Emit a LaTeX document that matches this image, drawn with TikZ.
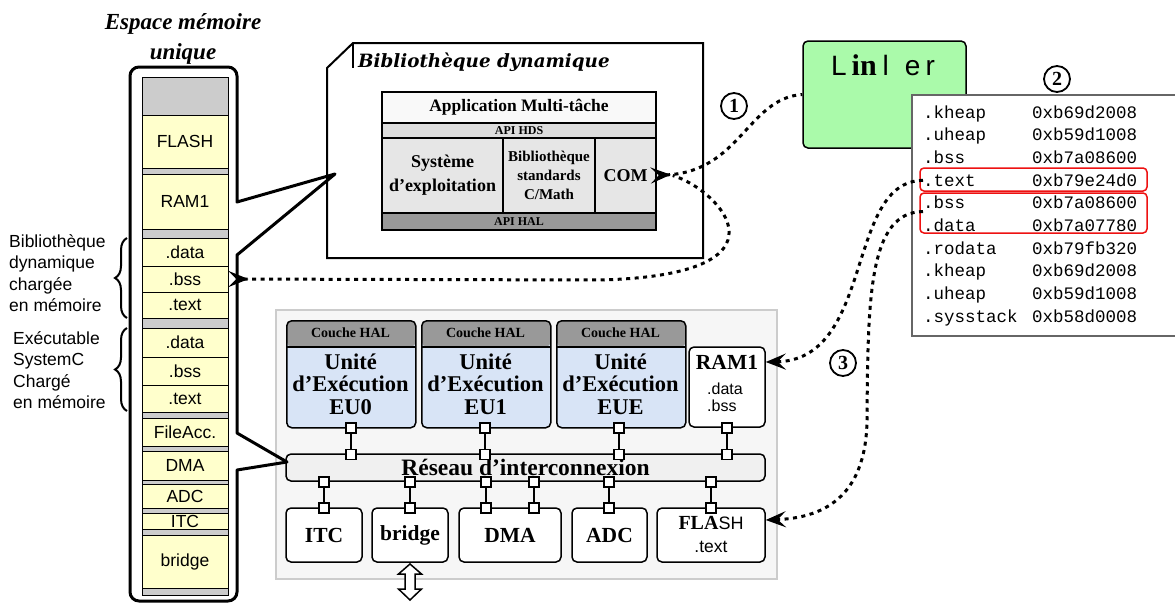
\documentclass[tikz,border=0pt]{standalone}
\usepackage{fontspec}
\setmainfont{Liberation Serif}
\setsansfont{Liberation Sans}
\setmonofont{Liberation Mono}
\newfontfamily\dejaserif{DejaVu Serif}
\usetikzlibrary{arrows.meta}
\usetikzlibrary{decorations.pathreplacing}

\definecolor{memYellow}{HTML}{FFFFCC}
\definecolor{memGray}{HTML}{CCCCCC}
\definecolor{appWhite}{HTML}{F9F9F9}
\definecolor{hdsGray}{HTML}{DDDDDD}
\definecolor{osGray}{HTML}{E6E6E6}
\definecolor{halGray}{HTML}{999999}
\definecolor{linkerGreen}{HTML}{AAFAAA}
\definecolor{tabGray}{HTML}{666666}
\definecolor{platFill}{HTML}{F6F6F6}
\definecolor{platBorder}{HTML}{CCCCCC}
\definecolor{euBlue}{HTML}{D8E4F6}
\definecolor{nocGray}{HTML}{F0F0F0}
\definecolor{markRed}{HTML}{EE1111}

\begin{document}
\begin{tikzpicture}[x=1pt,y=-1pt,
  callout/.style={line width=3pt,line join=round},
  memcell/.style={draw,line width=1pt,fill=memYellow,minimum width=86pt,inner sep=0pt,font=\sffamily\fontsize{17.5}{17.5}\selectfont},
  bracetxt/.style={align=left,inner sep=0pt,font=\sffamily\fontsize{17.5}{21.5}\selectfont},
  memBrace/.style={decorate,decoration={brace,amplitude=12pt},line width=2pt},
  layer/.style={draw,line width=1.5pt,inner sep=0pt,align=center},
  hwbox/.style={draw,line width=1.5pt,rounded corners=5pt,fill=white,inner sep=0pt},
  hwtitle/.style={font=\bfseries\fontsize{21.5}{22.5}\selectfont,align=center,inner sep=0pt},
  sectxt/.style={font=\sffamily\fontsize{17.5}{17.5}\selectfont,inner sep=0pt},
  eubox/.style={draw,line width=1.5pt,rounded corners=5pt,fill=euBlue,minimum width=129pt,minimum height=107pt,
    path picture={\fill[halGray] (path picture bounding box.north west) rectangle ([yshift=-26pt]path picture bounding box.north east);
      \draw[line width=1.5pt] ([yshift=-26pt]path picture bounding box.north west) -- ([yshift=-26pt]path picture bounding box.north east);}},
  port/.style={draw,line width=1.5pt,fill=white,minimum size=10pt,inner sep=0pt},
  link/.style={line width=2.5pt},
  symtxt/.style={font=\ttfamily\fontsize{17.5}{17.5}\selectfont,inner sep=0pt},
  circnum/.style={circle,draw,line width=1.8pt,inner sep=0pt,minimum size=26pt,font=\bfseries\fontsize{20}{20}\selectfont},
  dotlink/.style={line width=3pt,dash pattern=on 4pt off 4.5pt},
  tipHead/.tip={Stealth[length=20pt,width=16pt,inset=8pt]}
]
\useasboundingbox (0,0) rectangle (1175,603);

% Memory space title
\node[align=center,font=\bfseries\itshape\fontsize{23}{30}\selectfont] (memTitle) at (183,39) {Espace mémoire\\unique};

%Shape: memory column
\draw[line width=1pt,fill=memGray] (142,77) rectangle (228,595);
\foreach \yt/\yb/\lbl [count=\i] in {115/168/FLASH,174/229/RAM1,238/266/.data,266/292/.bss,292/318/.text,328/357/.data,357/385/.bss,385/412/.text,418/446/FileAcc.,451/480/DMA,484/508/ADC,513/529/ITC,535/588/bridge}
{
  \pgfmathsetmacro\cellh{\yb-\yt}
  \pgfmathsetmacro\cellm{(\yt+\yb)/2}
  \node[memcell,minimum height=\cellh pt] (cell\i) at (185,\cellm) {\lbl};
}

% Braces and their texts
\draw[memBrace] (127,318) -- (127,238);
\draw[memBrace] (127,411) -- (127,328);
\node[bracetxt,anchor=north west] (libTxt) at (9,234) {Bibliothèque\\dynamique\\chargée\\en mémoire};
\node[bracetxt,anchor=north west] (exeTxt) at (13,331) {Exécutable\\SystemC\\Chargé\\en mémoire};

%Shape: dynamic library frame
\draw[line width=2pt] (353,43) -- (703,43) -- (703,258) -- (327,258) -- (327,68) -- cycle;
\draw[line width=1.5pt] (353,43) -- (353,68);
\node[anchor=base west,inner sep=0pt,font=\dejaserif\bfseries\itshape\fontsize{18.3}{18}\selectfont] (libTitle) at (358,67) {Bibliothèque dynamique};

% Software layers
\node[layer,fill=appWhite,minimum width=274pt,minimum height=31pt,font=\bfseries\fontsize{17.5}{17.5}\selectfont] (app) at (519,107.5) {Application Multi-tâche};
\node[layer,fill=hdsGray,minimum width=274pt,minimum height=15pt,font=\bfseries\fontsize{12}{12}\selectfont] (apiHds) at (519,130.5) {API HDS};
\node[layer,fill=osGray,minimum width=121pt,minimum height=75pt,font=\bfseries\fontsize{18}{24}\selectfont] (os) at (442.5,175.5) {Système\\d'exploitation};
\node[layer,fill=osGray,minimum width=92pt,minimum height=75pt,font=\bfseries\fontsize{15}{19}\selectfont] (stdlib) at (549,175.5) {Bibliothèque\\standards\\C/Math};
\node[layer,fill=osGray,minimum width=61pt,minimum height=75pt,font=\bfseries\fontsize{18}{18}\selectfont] (com) at (625.5,175.5) {COM};
\node[layer,fill=halGray,minimum width=274pt,minimum height=17pt,font=\bfseries\fontsize{12}{12}\selectfont] (apiHal) at (519,221.5) {API HAL};

% Linker
\node[draw,line width=1.5pt,rounded corners=5pt,fill=linkerGreen,minimum width=163pt,minimum height=107pt] (linker) at (884.5,94.5) {};
\node[inner sep=0pt] (linkerTxt) at (883,65) {\sffamily\fontsize{28}{28}\selectfont L\kern5pt{\rmfamily\bfseries\fontsize{30}{30}\selectfont in}\kern6pt l\kern16pt e\kern5pt r};

% Symbol table
\node[draw=tabGray,line width=1.5pt,fill=white,minimum width=266pt,minimum height=241pt,anchor=north west] (symtab) at (911,94) {};
\foreach \sec/\addr [count=\i] in {.kheap/0xb69d2008,.uheap/0xb59d1008,.bss/0xb7a08600,.text/0xb79e24d0,.bss/0xb7a08600,.data/0xb7a07780,.rodata/0xb79fb320,.kheap/0xb69d2008,.uheap/0xb59d1008,.sysstack/0xb58d0008}
{
  \node[symtxt,anchor=base west] (sec\i) at (923,{118+22.7*(\i-1)}) {\sec};
  \node[symtxt,anchor=base west] (addr\i) at (1032,{118+22.7*(\i-1)}) {\addr};
}
\draw[markRed,line width=1.5pt,rounded corners=4pt] (920,168) rectangle (1147,191);
\draw[markRed,line width=1.5pt,rounded corners=4pt] (920,193) rectangle (1147,233);

% Step numbers
\node[circnum] (step1) at (734,106) {1};
\node[circnum] (step2) at (1057,79) {2};
\node[circnum] (step3) at (843,363) {3};

%Shape: platform
\node[draw=platBorder,fill=platFill,line width=1.5pt,minimum width=501pt,minimum height=269pt,anchor=north west] (platform) at (275,309) {};

% Execution units
\foreach \xl/\nm/\lbl in {286/eu0/EU0,421/eu1/EU1,556/eue/EUE}
{
  \node[eubox,anchor=north west] (\nm) at (\xl,320) {};
  \node[inner sep=0pt,font=\bfseries\fontsize{14}{14}\selectfont] (\nm hal) at (\xl+64.5,333) {Couche HAL};
  \node[hwtitle,font=\bfseries\fontsize{22.5}{22.5}\selectfont] (\nm txt) at (\xl+64.5,384) {Unité\\d'Exécution\\\lbl};
}

% RAM1
\node[hwbox,minimum width=76pt,minimum height=80pt] (ram) at (727,387) {};
\node[hwtitle] (ramTitle) at (727,362) {RAM1};
\node[sectxt,font=\sffamily\fontsize{16}{16}\selectfont,anchor=base west] (ramData) at (707,394) {.data};
\node[sectxt,font=\sffamily\fontsize{16}{16}\selectfont,anchor=base west] (ramBss) at (707,411) {.bss};

% Interconnect
\node[hwbox,fill=nocGray,minimum width=479pt,minimum height=27pt,font=\bfseries\fontsize{23.5}{23.5}\selectfont] (noc) at (525.5,467.5) {Réseau d'interconnexion};

% Peripherals
\foreach \cx/\w/\nm/\lbl in {324/76/itc/ITC,410/76/bridge/bridge,510/102/dma/DMA,609.5/75/adc/ADC}
{
  \node[hwbox,hwtitle,minimum width=\w pt,minimum height=54pt] (\nm) at (\cx,535) {\lbl};
}
\node[hwbox,minimum width=108pt,minimum height=54pt] (flash) at (711,535) {};
\node[inner sep=0pt] (flashTitle) at (711,523) {{\bfseries\fontsize{20}{20}\selectfont FLA}{\sffamily\fontsize{18}{18}\selectfont SH}};
\node[sectxt] (flashSec) at (711,547) {.text};

% Ports
\foreach \px [count=\i] in {351,485,619,727}
{
  \node[port] (pu\i) at (\px,428) {};
  \node[port] (pn\i) at (\px,454.5) {};
  \draw[link] (pu\i) -- (pn\i);
}
\foreach \px [count=\i] in {324,410,486,534,609,711}
{
  \node[port] (pb\i) at (\px,482) {};
  \node[port] (pd\i) at (\px,508) {};
  \draw[link] (pb\i) -- (pd\i);
}

%Shape: bridge I/O double arrow
\draw[line width=1.5pt,line join=miter,fill=white] (410,564) -- (421.5,574) -- (415,574) -- (415,589) -- (421.5,589) -- (410,600) -- (398.5,589) -- (405,589) -- (405,574) -- (398.5,574) -- cycle;

%Shape: memory callouts
\draw[callout] (237,255) -- (237,433) -- (287,462) -- (237,470) [rounded corners=9pt] -- (237,601) -- (130,601) -- (130,67) -- (237,67) [sharp corners] -- (237,202) -- (335,174) -- cycle;

% Dotted links
\draw[dotlink,{tipHead[reversed]}-] ([xshift=-6pt]com.east) .. controls (740,172) and (748,98) .. (linker.west);
\draw[dotlink,{tipHead[reversed]}-] (cell4.east) -- (600,280) .. controls (800,275) and (720,190) .. ([xshift=16pt]com.east);
\draw[dotlink,-{tipHead}] (sec4.west) .. controls (845,181) and (875,360) .. ([yshift=25pt]ram.east);
\draw[dotlink,-{tipHead}] ([yshift=-9pt]sec5.west) .. controls (868,212) and (868,300) .. (867,420) .. controls (866,500) and (820,518) .. ([yshift=15pt]flash.east);

\end{tikzpicture}
\end{document}
